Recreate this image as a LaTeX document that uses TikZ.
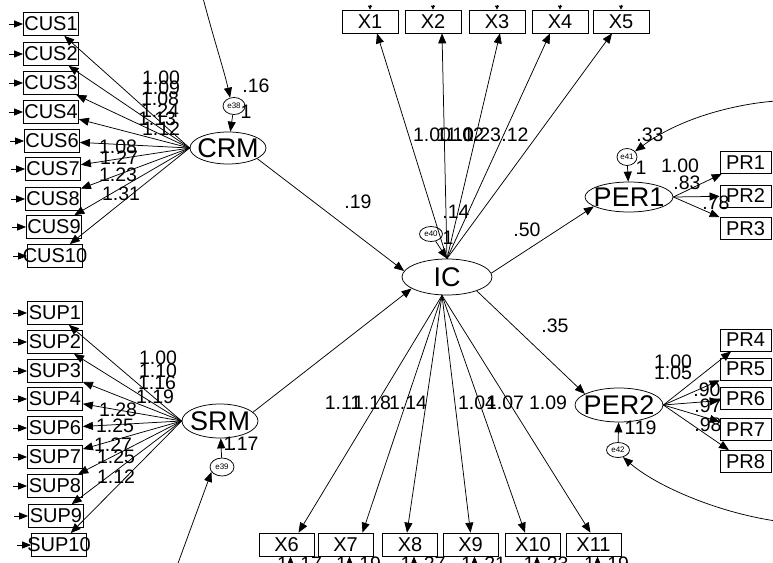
\documentclass[tikz,border=0pt]{standalone}
\usepackage{fontspec}
\setmainfont{Liberation Sans}
\usetikzlibrary{arrows.meta,shapes.geometric}
\begin{document}
\begin{tikzpicture}[x=1pt,y=-1pt,line width=0.75pt,
  obs/.style={draw,rectangle,minimum width=55pt,minimum height=23pt,inner sep=0pt,font=\fontsize{20}{20}\selectfont},
  lat/.style={draw,ellipse,inner sep=0pt},
  latlbl/.style={inner sep=0pt,font=\fontsize{27}{27}\selectfont},
  err/.style={draw,ellipse,inner sep=0pt,minimum width=22pt,minimum height=17pt},
  errlbl/.style={inner sep=0pt,font=\fontsize{8}{8}\selectfont},
  lbl/.style={inner sep=0pt,font=\fontsize{19.5}{19.5}\selectfont},
  arr/.style={-{Triangle[length=10pt,width=8pt]}},
  stub/.style={-{Triangle[length=9pt,width=7pt]}},
  tick/.style={-{Triangle[length=4pt,width=4pt]}}]
\useasboundingbox (0,0) rectangle (773,562);
\clip (0,0) rectangle (773,562);

% observed boxes, left
\foreach \n/\x/\y in {1/51/24,2/51/54,3/51/83,4/51/112,6/52/141,7/53/169,8/53/199,9/54/227,10/55/256}
  \node[obs] (CUS\n) at (\x,\y) {\makebox[0pt]{CUS\n}};
\foreach \n/\x/\y in {1/55/313,2/55/342,3/55/371,4/55/399,6/55/428,7/55/457,8/55/486,9/56/516,10/59/545}
  \node[obs] (SUP\n) at (\x,\y) {\makebox[0pt]{SUP\n}};
% X boxes
\foreach \n/\x in {1/370,2/433,3/497,4/560,5/621}
  \node[obs,minimum width=56pt] (X\n) at (\x,21.5) {X\n};
\foreach \n/\x in {6/286.5,7/345.5,8/410,9/470.5,10/533,11/593.5}
  \node[obs,minimum width=55pt] (X\n) at (\x,544.5) {X\n};
% PR boxes
\foreach \n/\y in {1/162.5,2/196,3/228.5,4/340,5/369,6/398.5,7/429.5,8/461.5}
  \node[obs,minimum width=51pt,minimum height=22pt] (PR\n) at (745.5,\y) {PR\n};

% latent variables
\node[lat,minimum width=76pt,minimum height=32pt,label={[latlbl,name=tCRM]center:CRM}] (CRM) at (228,148) {};
\node[lat,minimum width=76pt,minimum height=34pt,label={[latlbl,name=tSRM]center:SRM}] (SRM) at (220,421) {};
\node[lat,minimum width=90pt,minimum height=36pt,label={[latlbl,name=tIC]center:IC}] (IC) at (447,277) {};
\node[lat,minimum width=88pt,minimum height=30pt,label={[latlbl,name=tPER1]center:PER1}] (PER1) at (629,197) {};
\node[lat,minimum width=88pt,minimum height=34pt,label={[latlbl,name=tPER2]center:PER2}] (PER2) at (619,405) {};

% error terms
\node[err,label={[errlbl,name=t38]center:e38}] (e38) at (234,106) {};
\node[err,minimum width=24pt,minimum height=18pt,label={[errlbl,name=t39]center:e39}] (e39) at (222,467) {};
\node[err,minimum width=23pt,minimum height=15pt,label={[errlbl,name=t40]center:e40}] (e40) at (431,234) {};
\node[err,minimum width=20pt,label={[errlbl,name=t41]center:e41}] (e41) at (627,157) {};
\node[err,minimum width=23pt,minimum height=15pt,label={[errlbl,name=t42]center:e42}] (e42) at (618,450) {};

% loadings
\foreach \n in {1,2,3,4,6,7,8,9,10} {
  \draw[arr] (CRM.west) -- (CUS\n);
  \draw[stub] ([xshift=-14pt]CUS\n.west) -- (CUS\n.west);
  \draw[arr] (SRM.west) -- (SUP\n);
  \draw[stub] ([xshift=-14pt]SUP\n.west) -- (SUP\n.west);
}
\foreach \n/\s in {1/7,2/9,3/3,4/-10,5/-9} {
  \draw[arr] (IC.north) -- ([xshift=\s pt]X\n.south);
  \draw[tick] ([yshift=5pt]X\n.north) -- (X\n.north);
}
\foreach \n/\s in {6/12,7/17,8/-3,9/0,10/-8,11/-3} {
  \draw[arr] ([xshift=-5pt]IC.south) -- ([xshift=\s pt]X\n.north);
  \draw[arr] ([xshift=4pt,yshift=-16pt]X\n.south) -- ([xshift=4pt]X\n.south);
}
\foreach \n in {1,2,3} \draw[arr] (PER1.east) -- (PR\n);
\foreach \n in {4,5,6,7,8} \draw[arr] (PER2.east) -- (PR\n);

% structural paths
\draw[arr] (CRM.-20) -- (IC.172);
\draw[arr] (SRM.15) -- (IC.198);
\draw[arr] (IC.5) -- (PER1.195);
\draw[arr] (IC.-25) -- (PER2.162);

% error arrows
\draw[arr] (e38) -- (CRM);
\draw[arr] (e39) -- (SRM);
\draw[arr] (e40) -- (IC.north);
\draw[arr] (e41) -- (PER1);
\draw[arr] (e42) -- (PER2);
\coordinate (s38) at (203,-2);
\coordinate (s39) at (177,566);
\coordinate (s41) at (776,101);
\coordinate (s42) at (776,521);
\draw[arr] (s38) .. controls (214,40) and (224,70) .. (e38.115);
\draw[arr] (s39) -- (e39.205);
\draw[arr] (s41) .. controls (735,104) and (680,118) .. (e41.35);
\draw[arr] (s42) .. controls (715,512) and (655,485) .. (e42.-55);

% estimates
\foreach \t/\x/\y [count=\i] in {
  1.00/161/78, 1.09/161/88, 1.08/160/99, 1.24/160/111, 1.13/157/119, 1.12/161/129,
  1.08/118/147, 1.27/119/158, 1.23/118/175, 1.31/121/194, .16/256/86, 1/246/112,
  1.00/158/358, 1.10/158/371, 1.16/157/383, 1.19/155/397, 1.28/118/410, 1.25/115/426,
  1.27/113/445, 1.25/116/457, 1.12/116/477, 1/229/444, .17/245/444,
  .19/358/202, .50/527/230, .35/555/326, .14/456/212, 1/448/238,
  1.00/432/135, 1.10/455/135, 1.02/465/135, 1.23/482/135, .12/515/135,
  1.11/343/403, 1.18/372/403, 1.14/408/403, 1.04/477/403, 1.07/505/403, 1.09/548/403,
  .33/650/135, 1/641/168, 1.00/680/166, .83/687/183, .78/716/203,
  1.00/673/362, 1.05/673/373, .90/707/390, .97/708/406, .98/708/425, 1/630/428, .19/643/428}
  \node[lbl] (est\i) at (\x,\y) {\t};

% cut-off labels under bottom X boxes
\foreach \n/\v [count=\i] in {6/.17,7/.19,8/.27,9/.21,10/.23,11/.19} {
  \node[lbl,anchor=base] (one\i) at ([xshift=-4pt,yshift=-25.5pt]X\n.center) {1};
  \node[lbl,anchor=base] (var\i) at ([xshift=22pt,yshift=-25.5pt]X\n.center) {\v};
}
\end{tikzpicture}
\end{document}
